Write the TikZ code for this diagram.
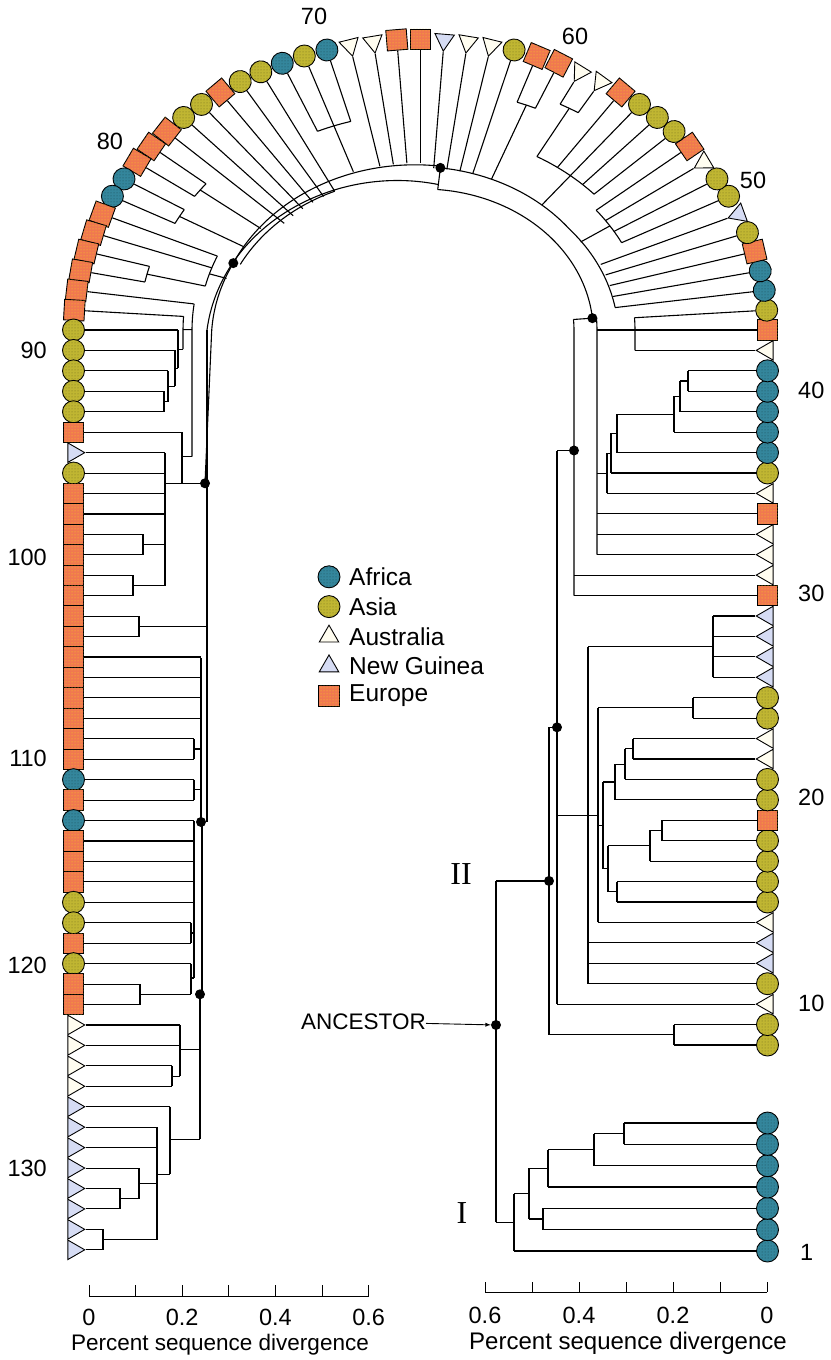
\documentclass[tikz,border=0pt]{standalone}
\usepackage{fontspec}
\setmainfont{Liberation Sans}
\newfontfamily\romfont{Liberation Serif}
\usetikzlibrary{shapes.geometric,arrows,patterns}
\tikzset{>=latex}
\definecolor{afrc}{RGB}{52,134,156}
\definecolor{asic}{RGB}{192,182,50}
\definecolor{eurc}{RGB}{240,120,80}
\definecolor{pngc}{RGB}{214,220,244}
\definecolor{ausc}{RGB}{255,253,240}
\tikzset{
  br/.style={line width=1.1pt},
  leafbase/.style={draw=black, line width=0.9pt, inner sep=0pt},
  afr/.style={leafbase, circle, minimum size=22pt, fill=afrc,
    postaction={pattern=dots, pattern color=afrc!55!black}},
  asi/.style={leafbase, circle, minimum size=22pt, fill=asic,
    postaction={pattern=dots, pattern color=asic!60!black}},
  eur/.style={leafbase, rectangle, minimum size=20.5pt, fill=eurc,
    postaction={pattern=dots, pattern color=yellow!70!eurc}},
  aus/.style={leafbase, regular polygon, regular polygon sides=3,
    shape border rotate=90, minimum size=22.5pt, fill=ausc},
  png/.style={aus, fill=pngc},
  dot/.style={circle, fill=black, inner sep=0pt, minimum size=10pt},
  lab/.style={font=\fontsize{23.5}{26}\selectfont, inner sep=0pt},
  ttl/.style={font=\fontsize{22.5}{26}\selectfont, inner sep=0pt},
}
% leaf n drawn on the horseshoe, facing outwards
\newcommand\leaf[2]{%
  \pgfmathsetmacro\la{(#1<=43)?0:((#1>=89)?180:atan2(282*sin((#1-43)*180/46),336.5*cos((#1-43)*180/46)))}%
  \node[#2, rotate=\la] (l#1) at ({mx(#1,-10.5)},{my(#1,-10.5)}) {};}
% branch from leaf n in to depth d
\newcommand\tb[2]{\draw[br] (l#1) -- ({mx(#1,#2)},{my(#1,#2)});}
% branch across the horseshoe at position s, depth d1 to d2
\newcommand\hb[3]{\draw[br] ({mx(#1,#2)},{my(#1,#2)}) -- ({mx(#1,#3)},{my(#1,#3)});}
% node line along the horseshoe from (s1,d1) to (s2,d2)
\newcommand\vb[4]{%
  \pgfmathtruncatemacro\ns{abs(#3-#1)*3+2}%
  \draw[br] plot[domain=#1:#3, samples=\ns] ({mx(\x,#2+(#4-#2)*(\x-#1)/(#3-#1))},{my(\x,#2+(#4-#2)*(\x-#1)/(#3-#1))});}

\begin{document}
\begin{tikzpicture}[x=1pt, y=-1pt,
  declare function={
    mx(\sv,\dv)=(\sv<=43)?(757-\dv):((\sv>=89)?(84+\dv):(420.5+(1-\dv/336.5)*336.5*cos((\sv-43)*180/46)));
    my(\sv,\dv)=(\sv<=7)?(1251-(\sv-1)*21.33):((\sv<8)?(1123-(\sv-7)*78):((\sv<=43)?(1045-(\sv-8)*20.43):((\sv>=89)?(330+(\sv-89)*20.44):(330-(1-\dv/336.5)*282*sin((\sv-43)*180/46)))));
  }]
\fill[white] (0,0) rectangle (830,1360);
\useasboundingbox (0,0) rectangle (830,1360);

% leaves
\foreach \lnum/\ltype in {1/afr,2/afr,3/afr,4/afr,5/afr,6/afr,7/afr,8/asi,9/asi,10/aus,
  11/asi,12/png,13/png,14/aus,15/asi,16/asi,17/asi,18/asi,19/eur,20/asi,
  21/asi,22/aus,23/aus,24/asi,25/asi,26/png,27/png,28/png,29/png,30/eur,
  31/aus,32/aus,33/aus,34/eur,35/aus,36/asi,37/afr,38/afr,39/afr,40/afr,
  41/afr,42/aus,43/eur,44/asi,45/afr,46/afr,47/eur,48/asi,49/png,50/asi,
  51/asi,52/aus,53/eur,54/asi,55/asi,56/asi,57/eur,58/aus,59/aus,60/eur,
  61/eur,62/asi,63/aus,64/aus,65/png,66/eur,67/eur,68/aus,69/aus,70/afr,
  71/asi,72/afr,73/asi,74/asi,75/eur,76/asi,77/asi,78/eur,79/eur,80/eur,
  81/afr,82/afr,83/eur,84/eur,85/eur,86/eur,87/eur,88/eur,89/asi,90/asi,
  91/asi,92/asi,93/asi,94/eur,95/png,96/asi,97/eur,98/eur,99/eur,100/eur,
  101/eur,102/eur,103/eur,104/eur,105/eur,106/eur,107/eur,108/eur,109/eur,110/eur,
  111/afr,112/eur,113/afr,114/eur,115/eur,116/eur,117/asi,118/asi,119/eur,120/asi,
  121/eur,122/eur,123/aus,124/aus,125/aus,126/aus,127/png,128/png,129/png,130/png,
  131/png,132/png,133/png,134/png}
  {\leaf{\lnum}{\ltype}}

% clade I
\tb{7}{133} \tb{6}{133} \vb{6}{133}{7}{133}
\hb{6.5}{133}{163} \tb{5}{163} \vb{5}{163}{6.5}{163}
\hb{5.75}{163}{209} \tb{4}{209} \vb{4}{209}{5.75}{209}
\tb{3}{214} \tb{2}{214} \vb{2}{214}{3}{214}
\hb{4.875}{209}{228} \hb{2.5}{214}{228} \vb{2.5}{228}{4.875}{228}
\hb{3.69}{228}{243} \tb{1}{243} \vb{1}{243}{3.69}{243}
\hb{2.34}{243}{261} \vb{2.34}{261}{16.03}{261}
% clade II
\hb{16.03}{261}{208} \vb{8.5}{208}{23.55}{208}
\tb{8}{83} \tb{9}{83} \vb{8}{83}{9}{83} \hb{8.5}{83}{208}
\hb{23.55}{208}{200} \vb{10}{200}{37.1}{200} \tb{10}{200}
\hb{19.25}{200}{169} \vb{11}{169}{27.5}{169}
\foreach \lnum in {11,12,13} {\tb{\lnum}{169}}
\hb{27.5}{169}{44} \vb{26}{44}{29}{44}
\foreach \lnum in {26,...,29} {\tb{\lnum}{44}}
\hb{19.25}{169}{159} \vb{14}{159}{24.5}{159} \tb{14}{159}
\tb{24}{64} \tb{25}{64} \vb{24}{64}{25}{64} \hb{24.5}{64}{159}
\hb{18.75}{154}{159} \vb{16.625}{154}{20.875}{154}
\hb{20.875}{142}{154} \vb{20}{142}{21.75}{142} \tb{20}{142}
\hb{21.75}{132}{142} \vb{21}{132}{22.5}{132} \tb{21}{132}
\hb{22.5}{124}{132} \vb{22}{124}{23}{124} \tb{22}{124} \tb{23}{124}
\hb{16.625}{149}{154} \vb{15.5}{149}{17.75}{149}
\hb{15.5}{140}{149} \vb{15}{140}{16}{140} \tb{15}{140} \tb{16}{140}
\hb{17.75}{107}{149} \vb{17}{107}{18.5}{107} \tb{17}{107}
\hb{18.5}{95}{107} \vb{18}{95}{19}{95} \tb{18}{95} \tb{19}{95}
% upper right column
\hb{37.1}{200}{183} \vb{30}{183}{44.2}{183} \tb{30}{183} \tb{31}{183}
\hb{44.2}{183}{160} \vb{32}{160}{44.2}{160}
\foreach \lnum in {32,33,34} {\tb{\lnum}{160}}
\tb{40}{69} \tb{41}{69} \vb{40}{69}{41}{69}
\hb{40.5}{69}{77} \tb{39}{77} \vb{39}{77}{40.5}{77}
\hb{39.75}{77}{83} \tb{38}{83} \vb{38}{83}{39.75}{83}
\hb{38.875}{83}{140} \tb{37}{140} \vb{37}{140}{38.875}{140}
\hb{37.94}{140}{146} \tb{36}{146} \vb{36}{146}{37.94}{146}
\hb{36.97}{146}{150} \tb{35}{150} \vb{35}{150}{36.97}{150}
\hb{35.98}{150}{160}
\foreach \lnum in {42,43,44} {\tb{\lnum}{122}}
\vb{42}{122}{44}{122} \hb{43}{122}{160}

% right arc
\vb{44.2}{164}{64.5}{168} \hb{64.5}{168}{142} \vb{52.9}{145}{64.5}{142}
\foreach \lnum in {62,...,65} {\tb{\lnum}{143}}
\tb{60}{48} \tb{61}{48} \vb{60}{48}{61}{48} \hb{60.5}{48}{143}
\tb{58}{33} \tb{59}{33} \vb{58}{33}{59}{33} \hb{58.5}{33}{99}
\foreach \lnum in {54,...,57} {\tb{\lnum}{99}}
\vb{54}{99}{58.5}{99} \hb{56}{99}{144}
\foreach \lnum in {50,...,53} {\tb{\lnum}{110}}
\vb{50}{110}{53}{110} \hb{51.5}{110}{145}
\foreach \lnum in {45,...,49} {\tb{\lnum}{140}}
\vb{45}{140}{52.9}{145}

% left arc
\vb{64.5}{140}{83.1}{133}
\foreach \lnum in {66,...,69} {\tb{\lnum}{137}}
\foreach \lnum in {70,71,72} {\tb{\lnum}{78}}
\vb{70}{78}{72}{78} \hb{71}{78}{136}
\foreach \lnum in {73,...,78} {\tb{\lnum}{150}}
\vb{64.5}{162}{89}{123}
\vb{73}{150}{83}{140}
\tb{79}{60} \tb{80}{60} \vb{79}{60}{80}{60} \hb{79.5}{60}{136}
\tb{81}{60} \tb{82}{60} \vb{81}{60}{82}{60} \hb{81.5}{60}{134}
\tb{83}{115} \tb{84}{115} \vb{83}{115}{84}{115}
\tb{85}{55} \tb{86}{55} \vb{85}{55}{86}{55} \hb{85.5}{55}{115}
\vb{84}{115}{85.5}{115} \hb{84.5}{115}{133}
\vb{83.1}{133}{96.5}{121}

% left column
\tb{93}{80} \tb{92}{80} \vb{92}{80}{93}{80}
\hb{92.5}{80}{84} \tb{91}{84} \vb{91}{84}{92.5}{84}
\hb{91.75}{84}{91} \tb{90}{91} \vb{90}{91}{91.75}{91}
\hb{90.875}{91}{94} \tb{89}{94} \vb{89}{94}{90.875}{94}
\hb{89.94}{94}{99} \tb{88}{99} \vb{88}{99}{89.94}{99}
\hb{88.97}{99}{108} \tb{87}{108} \vb{87}{108}{95.2}{108}
\foreach \lnum in {95,...,98} {\tb{\lnum}{81}}
\vb{95}{81}{101.5}{81}
\tb{99}{59} \tb{100}{59} \vb{99}{59}{100}{59} \hb{99.5}{59}{81}
\tb{101}{49} \tb{102}{49} \vb{101}{49}{102}{49} \hb{101.5}{49}{81}
\hb{96.5}{81}{98} \vb{94}{98}{96.5}{98} \tb{94}{98} \hb{95.2}{98}{108}
\hb{96.5}{98}{121}
\vb{89}{123}{113.07}{123}
\tb{103}{55} \tb{104}{55} \vb{103}{55}{104}{55} \hb{103.5}{55}{123}
\foreach \lnum in {105,...,108} {\tb{\lnum}{117}}
\vb{105.05}{117}{113.07}{117}
\tb{109}{110} \tb{110}{110} \vb{109}{110}{110}{110} \hb{109.5}{110}{117}
\tb{111}{110} \tb{112}{110} \vb{111}{110}{112}{110} \hb{111.5}{110}{117}
\foreach \lnum in {113,...,117} {\tb{\lnum}{110}}
\vb{113}{110}{120.7}{110}
\tb{118}{107} \tb{119}{107} \vb{118}{107}{119}{107} \hb{118.5}{107}{110}
\tb{121}{56} \tb{122}{56} \vb{121}{56}{122}{56}
\tb{120}{107} \hb{121.5}{56}{107} \vb{120}{107}{121.5}{107} \hb{120.7}{107}{110}
\vb{113.07}{118}{121.5}{118} \vb{121.5}{116}{128.6}{116}
\tb{123}{96} \tb{124}{96} \vb{123}{96}{125.5}{96}
\tb{125}{88} \tb{126}{88} \vb{125}{88}{126}{88} \hb{125.5}{88}{96}
\hb{124.2}{96}{116}
\tb{131}{36} \tb{132}{36} \vb{131}{36}{132}{36}
\tb{130}{55} \hb{131.5}{36}{55} \vb{130}{55}{131.5}{55}
\tb{133}{19} \tb{134}{19} \vb{133}{19}{134}{19}
\tb{128}{73} \tb{129}{73} \hb{130.75}{55}{73} \hb{133.5}{19}{73} \vb{128}{73}{133.5}{73}
\tb{127}{86} \hb{130.3}{73}{86} \vb{127}{86}{130.3}{86} \hb{128.6}{86}{116}

% marked nodes
\node[dot] (danc) at ({mx(8.98,261)},{my(8.98,261)}) {};
\node[dot] (dII) at ({mx(16.03,208)},{my(16.03,208)}) {};
\node[dot] (dD) at ({mx(23.55,200)},{my(23.55,200)}) {};
\node[dot] (dE) at ({mx(37.1,183)},{my(37.1,183)}) {};
\node[dot] (dF) at ({mx(44.2,164)},{my(44.2,164)}) {};
\node[dot] (dT) at ({mx(64.5,142)},{my(64.5,142)}) {};
\node[dot] (dY) at ({mx(83.1,133)},{my(83.1,133)}) {};
\node[dot] (dL1) at ({mx(96.5,121)},{my(96.5,121)}) {};
\node[dot] (dL2) at ({mx(113.07,117)},{my(113.07,117)}) {};
\node[dot] (dL3) at ({mx(121.5,116)},{my(121.5,116)}) {};

% labels
\node[lab, anchor=west] (n1) at (800,1252) {1};
\foreach \v/\yy in {10/1003,20/797,30/593,40/390}
  \node[lab, anchor=west] at (798,\yy) {\v};
\node[lab] at (753,180) {50};
\node[lab] at (575,36) {60};
\node[lab] at (314,16) {70};
\node[lab] at (110,141) {80};
\foreach \v/\yy in {90/350,100/557,110/758,120/965,130/1168}
  \node[lab, anchor=east] at (47,\yy) {\v};
\node[font=\romfont\fontsize{32}{32}\selectfont] (cII) at (461,874) {II};
\node[font=\romfont\fontsize{32}{32}\selectfont] (cI) at (462,1213) {I};
\node[ttl, anchor=east] (anc) at (426,1022) {ANCESTOR};
\draw[->, line width=0.9pt] (anc) -- (danc);

% legend
\foreach \ltype/\ltext [count=\i] in {afr/Africa,asi/Asia,aus/Australia,png/New Guinea,eur/Europe} {
  \node[\ltype, rotate=-90] (lg\i) at (329,547+29.8*\i) {};
  \node[font=\fontsize{24.5}{27}\selectfont, inner sep=0pt, anchor=west] at (349,547+29.8*\i) {\ltext};
}

% axes
\draw[line width=1pt] (89,1296) -- (369,1296);
\foreach \t in {0,...,6} \draw[line width=1pt] (89+46.6*\t,1296) -- (89+46.6*\t,1285);
\foreach \v [count=\i from 0] in {0,0.2,0.4,0.6}
  \node[lab] at (89+93.2*\i,1317) {\v};
\node[ttl] at (220,1345) {Percent sequence divergence};
\draw[line width=1pt] (485,1292) -- (767,1292);
\foreach \t in {0,...,6} \draw[line width=1pt] (485+47*\t,1292) -- (485+47*\t,1282);
\foreach \v [count=\i from 0] in {0.6,0.4,0.2,0}
  \node[lab] at (485+94*\i,1315) {\v};
\node[font=\fontsize{24}{27}\selectfont, inner sep=0pt] at (628,1343) {Percent sequence divergence};
\end{tikzpicture}
\end{document}
